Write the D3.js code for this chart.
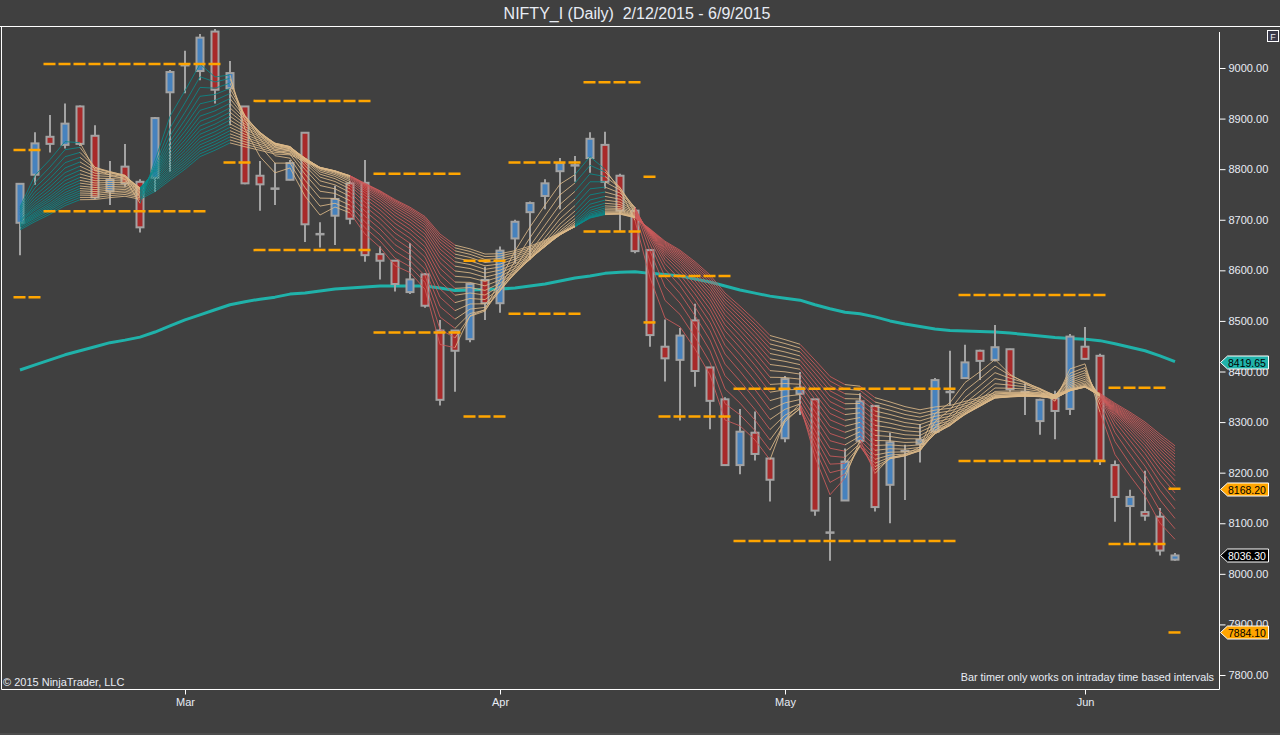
<!DOCTYPE html>
<html><head><meta charset="utf-8">
<script src="https://cdn.jsdelivr.net/npm/d3@7"></script>
<style>
body{margin:0;background:#404040;overflow:hidden}
svg{display:block}
text{font-family:Arial,"Liberation Sans",sans-serif}
</style>
</head><body>
<svg id="c" width="1280" height="735"></svg>
<script>
// ---------------- DATA ----------------
const title = "NIFTY_I (Daily)  2/12/2015 - 6/9/2015";
const dates = ["2015-02-12","2015-02-13","2015-02-16","2015-02-18","2015-02-19","2015-02-20","2015-02-23","2015-02-24","2015-02-25","2015-02-26","2015-02-27",
"2015-03-02","2015-03-03","2015-03-04","2015-03-05","2015-03-09","2015-03-10","2015-03-11","2015-03-12","2015-03-13","2015-03-16","2015-03-17","2015-03-18","2015-03-19","2015-03-20","2015-03-23","2015-03-24","2015-03-25","2015-03-26","2015-03-27","2015-03-30","2015-03-31",
"2015-04-01","2015-04-06","2015-04-07","2015-04-08","2015-04-09","2015-04-10","2015-04-13","2015-04-15","2015-04-16","2015-04-17","2015-04-20","2015-04-21","2015-04-22","2015-04-23","2015-04-24","2015-04-27","2015-04-28","2015-04-29","2015-04-30",
"2015-05-04","2015-05-05","2015-05-06","2015-05-07","2015-05-08","2015-05-11","2015-05-12","2015-05-13","2015-05-14","2015-05-15","2015-05-18","2015-05-19","2015-05-20","2015-05-21","2015-05-22","2015-05-25","2015-05-26","2015-05-27","2015-05-28","2015-05-29",
"2015-06-01","2015-06-02","2015-06-03","2015-06-04","2015-06-05","2015-06-08","2015-06-09"];
const open  = [8694,8789,8864,8848,8924,8866,8756,8805,8775,8783,8952,9006,8994,9072,8960,8924,8787,8762,8779,8872,8672,8708,8772,8773,8632,8619,8557,8592,8481,8481,8464,8581,8535,8663,8715,8747,8796,8808,8822,8848,8787,8718,8640,8449,8423,8501,8408,8345,8215,8279,8228,8268,8356,8345,8082,8145,8263,8332,8176,8243,8257,8281,8360,8387,8441,8423,8444,8360,8302,8347,8326,8449,8431,8215,8134,8122,8113,8028];
const high  = [8772,8873,8907,8930,8926,8887,8816,8850,8780,8903,8996,9034,9067,9077,9014,8925,8816,8812,8818,8873,8695,8767,8777,8818,8647,8620,8654,8594,8502,8482,8575,8607,8647,8700,8736,8780,8822,8826,8873,8874,8791,8725,8642,8503,8486,8534,8409,8349,8326,8321,8229,8391,8399,8346,8152,8248,8357,8333,8279,8255,8296,8387,8441,8453,8443,8492,8445,8377,8346,8362,8474,8488,8435,8224,8166,8204,8130,8041];
const low   = [8630,8769,8833,8841,8846,8741,8729,8765,8675,8755,8795,8950,8976,8930,8887,8770,8718,8729,8778,8656,8645,8650,8691,8617,8582,8558,8553,8526,8333,8360,8458,8502,8516,8614,8621,8721,8721,8775,8793,8762,8678,8634,8449,8380,8303,8370,8286,8214,8197,8224,8143,8260,8314,8115,8026,8144,8258,8123,8100,8146,8220,8279,8334,8386,8383,8420,8360,8314,8275,8266,8314,8423,8215,8103,8057,8105,8036,8026];
const close = [8771,8851,8850,8890,8850,8744,8779,8772,8685,8901,8992,9006,9060,8957,8990,8772,8770,8761,8812,8691,8672,8741,8702,8630,8619,8573,8582,8530,8344,8441,8573,8535,8639,8696,8733,8772,8812,8808,8860,8775,8718,8638,8472,8426,8471,8401,8342,8215,8281,8237,8186,8385,8368,8125,8082,8222,8341,8132,8260,8243,8265,8383,8360,8418,8421,8448,8365,8360,8344,8322,8469,8425,8224,8152,8152,8115,8046,8036.3];
// long simple moving average (thick teal line)
const sma = [8403,8413,8423,8433,8441,8449,8457,8462,8468,8478,8490,8502,8512,8522,8532,8538,8543,8547,8553,8555,8559,8563,8565,8567,8569,8569,8569,8569,8565,8560,8561,8562,8563,8565,8569,8573,8579,8585,8589,8594,8596,8597,8594,8592,8589,8583,8577,8569,8561,8555,8549,8545,8541,8532,8524,8517,8514,8508,8500,8494,8489,8484,8481,8480,8479,8478,8476,8473,8470,8467,8465,8464,8461,8455,8448,8441,8431,8419.65];
// ribbon of exponential moving averages: periods and their values on the first bar
const ribbonPeriods = [3,4,5,6,7,8,9,10,11,12,13,14,15,16,17,18,19,20];
const ribbonStart   = [8725,8722,8719,8716,8713,8710,8707,8704,8701,8699,8697,8694,8692,8690,8688,8686,8683,8680];
// pivot level segments (first bar, last bar, upper level, lower level)
const pivotStart   = [0, 2,14,16,24,30,33,38,42,43,48,63,73,77];
const pivotEnd     = [1,13,15,23,29,32,37,41,42,47,62,72,76,77];
const pivotLowEnd  = [1,12,15,23,29,32,37,41,42,47,62,72,76,77];
const pivotHigh    = [8838,9008,9105,8935,8791,8619,8813,8972,8785,8589,8366,8551,8368,8168.2];
const pivotLow     = [8547,8717,8813,8640,8477,8311,8514,8677,8497,8311,8065,8223,8059,7884.1];
const priceTicks = d3.range(7800, 9001, 100);

// ---------------- LAYOUT ----------------
const W = 1280, H = 735;
const plot = {l:1.5, r:1219.5, t:27, b:689.5};
const BG = "#404040", FG = "#e8ecf4", GRAY = "#a3a3a3";
const UP = "#4682be", DOWN = "#a82a2a";
const TEAL = "#0a8a8a", TAN = "#dcb888", RED = "#cc5c5c", ORANGE = "#ffa500", SMA_C = "#20b2aa";

const n = close.length;
const parse = d3.timeParse("%Y-%m-%d");
const dt = dates.map(parse);
const x = d3.scalePoint().domain(d3.range(n)).range([20, 1175]);
const y = d3.scaleLinear().domain([7800, 9000]).range([675, 68]);

const svg = d3.select("#c");
svg.append("rect").attr("width", W).attr("height", H).attr("fill", BG);

// title
svg.append("text").attr("x", 637).attr("y", 19).attr("text-anchor", "middle")
  .attr("fill", FG).attr("font-size", 16).style("white-space", "pre").text(title);

// frame
svg.append("line").attr("x1", 0).attr("x2", W).attr("y1", 26.5).attr("y2", 26.5).attr("stroke", "#fff").attr("stroke-width", 1);
svg.append("line").attr("x1", plot.l).attr("x2", plot.l).attr("y1", 26.5).attr("y2", plot.b).attr("stroke", "#fff");
svg.append("line").attr("x1", plot.l).attr("x2", plot.r).attr("y1", plot.b).attr("y2", plot.b).attr("stroke", "#fff");
svg.append("line").attr("x1", plot.r).attr("x2", plot.r).attr("y1", 32).attr("y2", plot.b).attr("stroke", "#fff");
svg.append("rect").attr("x", 0).attr("y", 733).attr("width", W).attr("height", 2).attr("fill", "#4c4c4c");

// "F" box
svg.append("rect").attr("x", 1267.5).attr("y", 30.5).attr("width", 11).attr("height", 11).attr("fill", "#3a3a4a").attr("stroke", "#fff");
svg.append("text").attr("x", 1273).attr("y", 39.5).attr("text-anchor", "middle").attr("font-size", 9).attr("fill", FG).text("F");

svg.append("clipPath").attr("id", "clip").append("rect")
  .attr("x", plot.l + 0.5).attr("y", 27).attr("width", plot.r - plot.l - 1).attr("height", plot.b - 27.5);
const g = svg.append("g").attr("clip-path", "url(#clip)");

// SMA line
g.append("path").datum(sma)
  .attr("d", d3.line().x((d, i) => x(i)).y(d => y(d)))
  .attr("fill", "none").attr("stroke", SMA_C).attr("stroke-width", 3).attr("stroke-linejoin", "round");

// candles
const bars = d3.range(n).map(i => ({i, o: open[i], h: high[i], l: low[i], c: close[i]}));
const cg = g.append("g");
cg.selectAll("line.wick").data(bars).join("line").attr("class", "wick")
  .attr("x1", d => x(d.i)).attr("x2", d => x(d.i))
  .attr("y1", d => y(d.h)).attr("y2", d => y(d.l))
  .attr("stroke", GRAY).attr("stroke-width", 2);
cg.selectAll("rect.body").data(bars).join("rect").attr("class", "body")
  .attr("x", d => x(d.i) - 3.5).attr("width", 7)
  .attr("y", d => y(Math.max(d.o, d.c)))
  .attr("height", d => Math.max(0.5, Math.abs(y(d.o) - y(d.c))))
  .attr("fill", d => d.c > d.o ? UP : d.c < d.o ? DOWN : GRAY)
  .attr("stroke", GRAY).attr("stroke-width", 2);

// ribbon EMAs
const emas = ribbonPeriods.map((p, k) => {
  const a = 2 / (p + 1);
  const v = [ribbonStart[k]];
  for (let i = 1; i < n; i++) v.push(v[i - 1] + a * (close[i] - v[i - 1]));
  return v;
});
const state = d3.range(n).map(i => {
  let up = true, dn = true;
  for (let k = 0; k < emas.length - 1; k++) {
    if (!(emas[k][i] > emas[k + 1][i])) up = false;
    if (!(emas[k][i] < emas[k + 1][i])) dn = false;
  }
  return up ? TEAL : dn ? RED : TAN;
});
const segs = [];
emas.forEach((v, k) => {
  for (let i = 1; i < n; i++) segs.push({k, i, a: v[i - 1], b: v[i]});
});
g.append("g").selectAll("line").data(segs).join("line")
  .attr("x1", d => x(d.i - 1)).attr("x2", d => x(d.i))
  .attr("y1", d => y(d.a)).attr("y2", d => y(d.b))
  .attr("stroke", d => state[d.i]).attr("stroke-width", 1).attr("stroke-opacity", 0.85);

// pivot levels
const half = x.step() / 2;
const piv = [];
pivotStart.forEach((s, j) => {
  piv.push({s, e: pivotEnd[j], v: pivotHigh[j]});
  piv.push({s, e: pivotLowEnd[j], v: pivotLow[j]});
});
g.append("g").selectAll("line").data(piv).join("line")
  .attr("x1", d => x(d.s) - half + 1).attr("x2", d => x(d.e) + half)
  .attr("y1", d => y(d.v)).attr("y2", d => y(d.v))
  .attr("stroke", ORANGE).attr("stroke-width", 2.5).attr("stroke-dasharray", "12,3");

// price axis
const ya = svg.append("g").attr("transform", `translate(${plot.r},0)`)
  .call(d3.axisRight(y).tickValues(priceTicks).tickFormat(d3.format(".2f")).tickSize(6).tickPadding(3));
ya.select(".domain").remove();
ya.selectAll(".tick line").attr("stroke", "#fff");
ya.selectAll(".tick text").attr("fill", FG).attr("font-size", 11).attr("font-family", "Arial, Liberation Sans, sans-serif");

// time axis (first bar of each month)
const monthIdx = d3.range(1, n).filter(i => dt[i].getMonth() !== dt[i - 1].getMonth());
const xa = svg.append("g").attr("transform", `translate(0,${plot.b})`)
  .call(d3.axisBottom(x).tickValues(monthIdx).tickFormat(i => d3.timeFormat("%b")(dt[i])).tickSize(5).tickPadding(4));
xa.select(".domain").remove();
xa.selectAll(".tick line").attr("stroke", "#fff");
xa.selectAll(".tick text").attr("fill", FG).attr("font-size", 11).attr("font-family", "Arial, Liberation Sans, sans-serif");

// footer texts
svg.append("text").attr("x", 3).attr("y", 686).attr("font-size", 11).attr("fill", FG).text("© 2015 NinjaTrader, LLC");
svg.append("text").attr("x", 1214).attr("y", 681).attr("text-anchor", "end").attr("font-size", 10.8).attr("fill", FG)
  .text("Bar timer only works on intraday time based intervals");

// price tags
const tags = [
  {v: sma[n - 1], fill: SMA_C, txt: "#000"},
  {v: pivotHigh[pivotHigh.length - 1], fill: ORANGE, txt: "#000"},
  {v: close[n - 1], fill: "#000", txt: "#fff"},
  {v: pivotLow[pivotLow.length - 1], fill: ORANGE, txt: "#000"}
];
const tg = svg.append("g").selectAll("g").data(tags).join("g")
  .attr("transform", d => `translate(${plot.r + 1},${Math.round(y(d.v)) + 0.5})`);
tg.append("path").attr("d", "M0,0 L7,-6.5 L48,-6.5 L48,6.5 L7,6.5 Z")
  .attr("fill", d => d.fill).attr("stroke", "#fff").attr("stroke-width", 1);
tg.append("text").attr("x", 7.5).attr("y", 4).attr("font-size", 10.5).attr("fill", d => d.txt)
  .text(d => d3.format(".2f")(d.v));
</script>
</body></html>
